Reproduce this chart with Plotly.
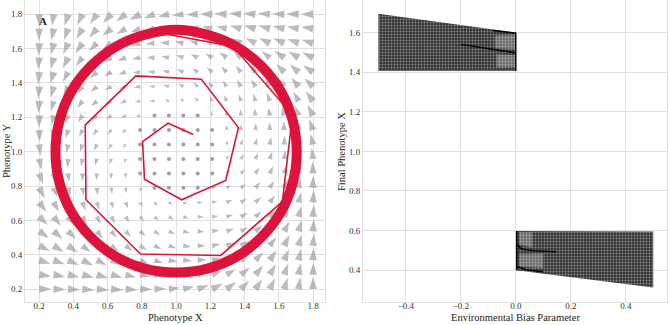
import numpy as np
import plotly.graph_objects as go

RED = "#DC143C"
GREY = "#a0a0a0"
GRID = "#e0e0e0"
FONT = "Liberation Serif, Times New Roman, serif"

# ---------------- left panel data ----------------
# quiver grid (both axes)
field_ticks = [0.2, 0.2842, 0.3684, 0.4526, 0.5368, 0.6211, 0.7053, 0.7895, 0.8737, 0.9579,
               1.0421, 1.1263, 1.2105, 1.2947, 1.3789, 1.4632, 1.5474, 1.6316, 1.7158, 1.8]

# arrow direction (degrees, counter-clockwise from +x), rows = y from 0.2 to 1.8
field_angle = [
    [0, 358, 357, 355, 355, 355, 356, 359, 2, 7, 13, 20, 28, 37, 46, 55, 64, 73, 82, 90],
    [352, 349, 347, 345, 344, 344, 345, 348, 352, 358, 4, 12, 21, 30, 39, 49, 59, 70, 79, 88],
    [343, 340, 336, 334, 332, 332, 334, 337, 342, 349, 356, 5, 14, 24, 34, 45, 55, 66, 77, 87],
    [334, 329, 325, 322, 321, 321, 323, 327, 334, 341, 350, 360, 10, 20, 30, 41, 52, 64, 75, 85],
    [325, 319, 315, 311, 310, 310, 313, 318, 325, 335, 345, 356, 7, 18, 29, 40, 51, 62, 74, 85],
    [316, 309, 304, 300, 299, 300, 303, 309, 318, 329, 342, 355, 7, 19, 30, 40, 51, 62, 74, 85],
    [307, 300, 294, 290, 288, 289, 292, 299, 309, 324, 340, 356, 10, 22, 33, 43, 53, 64, 75, 86],
    [298, 291, 284, 280, 277, 277, 280, 287, 299, 318, 341, 1, 17, 29, 39, 48, 57, 67, 78, 89],
    [290, 282, 275, 270, 266, 265, 266, 271, 284, 309, 346, 14, 29, 39, 48, 55, 64, 72, 82, 92],
    [283, 274, 266, 260, 255, 252, 250, 251, 256, 282, 12, 39, 48, 54, 59, 65, 71, 79, 88, 97],
    [277, 268, 259, 251, 245, 239, 234, 228, 219, 192, 102, 76, 71, 70, 72, 75, 80, 86, 94, 103],
    [272, 262, 252, 244, 235, 228, 219, 209, 194, 166, 129, 104, 91, 86, 85, 86, 90, 95, 102, 110],
    [269, 258, 247, 237, 228, 219, 209, 197, 181, 161, 138, 119, 107, 100, 97, 97, 100, 104, 111, 118],
    [266, 255, 244, 233, 223, 213, 202, 190, 176, 160, 144, 129, 119, 112, 109, 108, 110, 114, 120, 127],
    [265, 254, 242, 231, 220, 210, 199, 187, 175, 162, 149, 138, 129, 123, 120, 119, 120, 124, 129, 136],
    [265, 254, 242, 231, 220, 209, 198, 187, 176, 165, 155, 145, 138, 133, 130, 130, 131, 135, 139, 145],
    [265, 255, 244, 232, 221, 210, 200, 190, 180, 170, 161, 154, 147, 143, 141, 141, 142, 145, 149, 154],
    [267, 257, 246, 235, 225, 214, 204, 194, 185, 176, 169, 162, 157, 154, 152, 152, 154, 156, 160, 163],
    [268, 259, 250, 239, 229, 219, 210, 201, 192, 184, 178, 172, 168, 165, 164, 164, 165, 167, 169, 172],
    [270, 262, 253, 244, 235, 226, 217, 208, 200, 193, 187, 182, 179, 176, 175, 175, 175, 177, 178, 180],
]

# arrow magnitude (relative units), rows = y from 0.2 to 1.8
field_mag = [
    [26, 26, 26, 26, 26, 26, 26, 26, 25, 24, 24, 25, 26, 26, 26, 26, 26, 26, 26, 26],
    [26, 26, 26, 26, 26, 25, 23, 22, 22, 22, 22, 22, 22, 23, 25, 26, 26, 26, 26, 26],
    [26, 26, 26, 26, 24, 22, 21, 20, 19, 19, 19, 19, 20, 21, 22, 24, 26, 26, 26, 26],
    [26, 26, 26, 23, 22, 20, 19, 18, 17, 17, 17, 17, 18, 19, 20, 22, 23, 26, 26, 26],
    [26, 26, 24, 22, 20, 18, 17, 16, 15, 15, 15, 15, 16, 17, 18, 20, 22, 24, 26, 26],
    [26, 25, 22, 20, 18, 17, 15, 14, 13, 13, 13, 13, 14, 15, 17, 18, 20, 22, 25, 26],
    [26, 23, 21, 19, 17, 15, 14, 12, 11, 10, 10, 11, 12, 14, 15, 17, 19, 21, 23, 26],
    [26, 22, 20, 18, 16, 14, 12, 10, 8, 7, 7, 8, 10, 12, 14, 16, 18, 20, 22, 26],
    [25, 22, 19, 17, 15, 13, 11, 8, 6, 5, 5, 6, 8, 11, 13, 15, 17, 19, 22, 25],
    [24, 22, 19, 17, 15, 13, 10, 7, 5, 2, 2, 5, 7, 10, 13, 15, 17, 19, 22, 24],
    [24, 22, 19, 17, 15, 13, 10, 7, 5, 2, 2, 5, 7, 10, 13, 15, 17, 19, 22, 24],
    [25, 22, 19, 17, 15, 13, 11, 8, 6, 5, 5, 6, 8, 11, 13, 15, 17, 19, 22, 25],
    [26, 22, 20, 18, 16, 14, 12, 10, 8, 7, 7, 8, 10, 12, 14, 16, 18, 20, 22, 26],
    [26, 23, 21, 19, 17, 15, 14, 12, 11, 10, 10, 11, 12, 14, 15, 17, 19, 21, 23, 26],
    [26, 25, 22, 20, 18, 17, 15, 14, 13, 13, 13, 13, 14, 15, 17, 18, 20, 22, 25, 26],
    [26, 26, 24, 22, 20, 18, 17, 16, 15, 15, 15, 15, 16, 17, 18, 20, 22, 24, 26, 26],
    [26, 26, 26, 23, 22, 20, 19, 18, 17, 17, 17, 17, 18, 19, 20, 22, 23, 26, 26, 26],
    [26, 26, 26, 26, 24, 22, 21, 20, 19, 19, 19, 19, 20, 21, 22, 24, 26, 26, 26, 26],
    [26, 26, 26, 26, 26, 25, 23, 22, 22, 22, 22, 22, 22, 23, 25, 26, 26, 26, 26, 26],
    [26, 26, 26, 26, 26, 26, 26, 26, 25, 24, 24, 25, 26, 26, 26, 26, 26, 26, 26, 26],
]

spiral_x = [1.10, 0.953, 0.804, 0.815, 1.032, 1.290, 1.364, 1.148, 0.765, 0.469,
            0.473, 0.792, 1.261, 1.621, 1.680, 1.333, 0.860]
spiral_y = [1.10, 1.166, 1.059, 0.840, 0.720, 0.832, 1.140, 1.422, 1.441, 1.156,
            0.720, 0.404, 0.396, 0.710, 1.214, 1.612, 1.700]

cycle_x = [1.705, 1.681, 1.611, 1.498, 1.353, 1.183, 1.000, 0.817, 0.647, 0.502,
           0.389, 0.319, 0.295, 0.319, 0.389, 0.502, 0.647, 0.817, 1.000, 1.183,
           1.353, 1.498, 1.611, 1.681, 1.705]
cycle_y = [1.000, 1.183, 1.353, 1.498, 1.611, 1.681, 1.710, 1.681, 1.611, 1.498,
           1.353, 1.183, 1.000, 0.817, 0.647, 0.502, 0.389, 0.319, 0.296, 0.319,
           0.389, 0.502, 0.647, 0.817, 1.000]

# ---------------- right panel data ----------------
upper_cloud_x = [-0.5, 0.0, 0.0, -0.5, -0.5]
upper_cloud_y = [1.694, 1.600, 1.405, 1.405, 1.694]
lower_cloud_x = [0.0, 0.5, 0.5, 0.0, 0.0]
lower_cloud_y = [0.598, 0.595, 0.313, 0.400, 0.598]

gaps = [
    ([-0.075, 0.0, 0.0, -0.075], [1.585, 1.588, 1.515, 1.52]),
    ([-0.07, 0.0, 0.0, -0.07], [1.49, 1.485, 1.425, 1.425]),
    ([0.012, 0.10, 0.10, 0.012], [0.48, 0.485, 0.41, 0.42]),
    ([0.012, 0.06, 0.06, 0.012], [0.59, 0.59, 0.515, 0.53]),
]

band_lines = [
    ([-0.084, 0.0], [1.61, 1.597]),
    ([-0.20, -0.10, 0.0], [1.54, 1.52, 1.497]),
    ([0.0, 0.0], [1.405, 1.60]),
    ([0.004, 0.004], [0.40, 0.598]),
    ([0.004, 0.02, 0.06, 0.146], [0.53, 0.507, 0.499, 0.493]),
    ([0.004, 0.04, 0.097], [0.418, 0.402, 0.392]),
]

fig = go.Figure()

# vector field (quiver-like: tail at grid point, arrowhead marker drawn at the tip)
FX, FY = np.meshgrid(np.array(field_ticks), np.array(field_ticks))
theta = np.radians(np.array(field_angle, dtype=float))
Lpx = 0.46 * np.array(field_mag, dtype=float)   # arrow length in px
pxu = 171.5                                      # px per data unit in the left panel
is_dot = np.array(field_mag) <= 8
tipx = FX + np.cos(theta) * Lpx / pxu
tipy = FY + np.sin(theta) * Lpx / pxu
ang = 90 - np.degrees(theta)
fig.add_trace(go.Scatter(
    x=tipx[~is_dot], y=tipy[~is_dot], mode="markers", hoverinfo="skip",
    marker=dict(symbol="arrow", size=(Lpx[~is_dot] / 0.951), angle=ang[~is_dot],
                color=GREY, line=dict(width=0)),
    xaxis="x", yaxis="y", showlegend=False))
fig.add_trace(go.Scatter(
    x=FX[is_dot], y=FY[is_dot], mode="markers", hoverinfo="skip",
    marker=dict(symbol="circle", size=4, color=GREY, line=dict(width=0)),
    xaxis="x", yaxis="y", showlegend=False))

fig.add_trace(go.Scatter(x=cycle_x, y=cycle_y, mode="lines", hoverinfo="skip",
                         line=dict(color=RED, width=10, shape="spline"),
                         xaxis="x", yaxis="y", showlegend=False))
fig.add_trace(go.Scatter(x=spiral_x, y=spiral_y, mode="lines", hoverinfo="skip",
                         line=dict(color=RED, width=1.6),
                         xaxis="x", yaxis="y", showlegend=False))

# right panel clouds
for cx, cy in [(upper_cloud_x, upper_cloud_y), (lower_cloud_x, lower_cloud_y)]:
    fig.add_trace(go.Scatter(
        x=cx, y=cy, mode="lines", fill="toself", line=dict(width=0),
        fillcolor="#353535",
        fillpattern=dict(shape=".", fgcolor="#e4e4e4", bgcolor="#353535",
                         size=3, solidity=0.3),
        hoverinfo="skip", xaxis="x2", yaxis="y2", showlegend=False))
for cx, cy in gaps:
    fig.add_trace(go.Scatter(
        x=cx, y=cy, mode="lines", fill="toself", line=dict(width=0),
        fillcolor="rgba(255,255,255,0.28)", hoverinfo="skip",
        xaxis="x2", yaxis="y2", showlegend=False))
for bx, by in band_lines:
    fig.add_trace(go.Scatter(x=bx, y=by, mode="lines", hoverinfo="skip",
                             line=dict(color="black", width=1.4),
                             xaxis="x2", yaxis="y2", showlegend=False))

axis_common = dict(showgrid=True, gridcolor=GRID, gridwidth=1, zeroline=False,
                   showline=True, linecolor=GRID, linewidth=1, mirror=True,
                   ticks="", automargin=False, tickformat=".1f",
                   tickfont=dict(family=FONT, size=9, color="#333"))
title_font = dict(family=FONT, size=10.5, color="#222")

fig.update_layout(
    width=669, height=325, margin=dict(l=0, r=0, t=0, b=0),
    paper_bgcolor="white", plot_bgcolor="white",
    xaxis=dict(domain=[0.0374, 0.4858], range=[0.117, 1.87], tick0=0.2, dtick=0.2,
               ticklabelstandoff=-5, **axis_common),
    yaxis=dict(domain=[0.0708, 1.0], range=[0.125, 1.883], tick0=0.2, dtick=0.2,
               **axis_common),
    xaxis2=dict(domain=[0.5426, 0.997], range=[-0.556, 0.55], tick0=0, dtick=0.2,
                anchor="y2", ticklabelstandoff=-5, **axis_common),
    yaxis2=dict(domain=[0.0708, 1.0], range=[0.2396, 1.764], tick0=0, dtick=0.2,
                anchor="x2", **axis_common),
    annotations=[
        dict(text="<b>A</b>", x=0.065, y=0.935, xref="paper", yref="paper",
             showarrow=False, font=dict(family=FONT, size=11, color="#222"),
             xanchor="center", yanchor="middle"),
        dict(text="Phenotype X", x=0.263, y=1 - 317.5 / 325, xref="paper", yref="paper",
             showarrow=False, font=title_font, xanchor="center", yanchor="middle"),
        dict(text="Environmental Bias Parameter", x=0.7713, y=1 - 317.5 / 325,
             xref="paper", yref="paper", showarrow=False, font=title_font,
             xanchor="center", yanchor="middle"),
        dict(text="Phenotype Y", x=6 / 669, y=1 - 151 / 325, xref="paper", yref="paper",
             showarrow=False, font=title_font, textangle=-90,
             xanchor="center", yanchor="middle"),
        dict(text="Final Phenotype X", x=341 / 669, y=1 - 151 / 325, xref="paper",
             yref="paper", showarrow=False, font=title_font, textangle=-90,
             xanchor="center", yanchor="middle"),
    ],
)
fig.write_html("out.html")
